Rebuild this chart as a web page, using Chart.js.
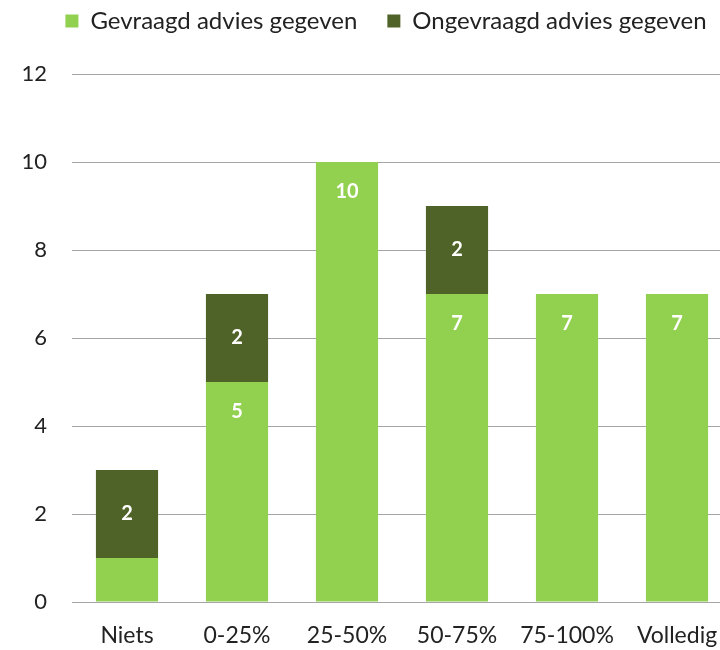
<!DOCTYPE html>
<html>
<head>
<meta charset="utf-8">
<script src="https://cdn.jsdelivr.net/npm/chart.js@4"></script>
<style>
  html, body { margin: 0; padding: 0; background: #fff; overflow: hidden; }
  #wrap { width: 800px; height: 650px; position: relative; }
</style>
</head>
<body>
<div id="wrap"><canvas id="chart"></canvas></div>
<script>
// chart data
const categories = ['Niets', '0-25%', '25-50%', '50-75%', '75-100%', 'Volledig'];
const gevraagd = [1, 5, 10, 7, 7, 7];
const ongevraagd = [2, 2, 0, 2, 0, 0];
const seriesNames = ['Gevraagd advies gegeven', 'Ongevraagd advies gegeven'];

const FONT = 'Lato, "Open Sans", sans-serif';

/**
 * Draw white value labels inside the bar segments
 */
const valueLabels = {
  id: 'valueLabels',
  afterDatasetsDraw(chart) {
    const ctx = chart.ctx;
    ctx.save();
    ctx.fillStyle = '#ffffff';
    ctx.font = 'bold 20px ' + FONT;
    ctx.textAlign = 'center';
    ctx.textBaseline = 'middle';
    chart.data.datasets.forEach((ds, i) => {
      const meta = chart.getDatasetMeta(i);
      meta.data.forEach((bar, j) => {
        const v = ds.data[j];
        if (!v || v < 2) return;
        // light segments: near the top, dark segments: centred
        const y = i === 0 ? bar.y + 30 : (bar.y + bar.base) / 2;
        ctx.fillText(String(v), bar.x, y);
      });
    });
    ctx.restore();
  }
};

/**
 * Legend spacing: wider gap between items, plot starts lower
 */
const legendSpace = {
  id: 'legendSpace',
  beforeInit(chart) {
    const origFit = chart.legend.fit;
    chart.legend.fit = function () {
      origFit.call(this);
      this.height += 10;
    };
  },
  afterLayout(chart) {
    chart.legend.left += 20;
    chart.legend.right += 20;
    chart.legend.top -= 21;
    chart.legend.bottom -= 21;
  }
};

const ctx = document.getElementById('chart').getContext('2d');
new Chart(ctx, {
  type: 'bar',
  data: {
    labels: categories,
    datasets: [
      {
        label: seriesNames[0],
        data: gevraagd,
        backgroundColor: '#92D050',
        barPercentage: 0.565,
        categoryPercentage: 1
      },
      {
        label: seriesNames[1],
        data: ongevraagd,
        backgroundColor: '#4F6228',
        barPercentage: 0.565,
        categoryPercentage: 1
      }
    ]
  },
  options: {
    responsive: true,
    maintainAspectRatio: false,
    animation: false,
    layout: { padding: { left: 0, right: 68, top: 0, bottom: 0 } },
    plugins: {
      tooltip: { enabled: false },
      legend: {
        position: 'top',
        labels: {
          color: '#222',
          font: { family: FONT, size: 24 },
          boxWidth: 13,
          boxHeight: 13,
          padding: 30
        }
      }
    },
    scales: {
      x: {
        stacked: true,
        grid: { display: false, drawTicks: false },
        border: { display: false },
        ticks: { color: '#222', font: { family: FONT, size: 23 }, padding: 20, maxRotation: 0, autoSkip: false },
        afterFit(scale) { scale.height = 48; }
      },
      y: {
        stacked: true,
        min: 0,
        max: 12,
        ticks: { stepSize: 2, color: '#222', font: { family: FONT, size: 22 }, padding: 25 },
        grid: { color: '#A6A6A6', lineWidth: 1, drawTicks: false },
        border: { display: false },
        afterFit(scale) { scale.width = 72; }
      }
    }
  },
  plugins: [valueLabels, legendSpace]
});
</script>
</body>
</html>
